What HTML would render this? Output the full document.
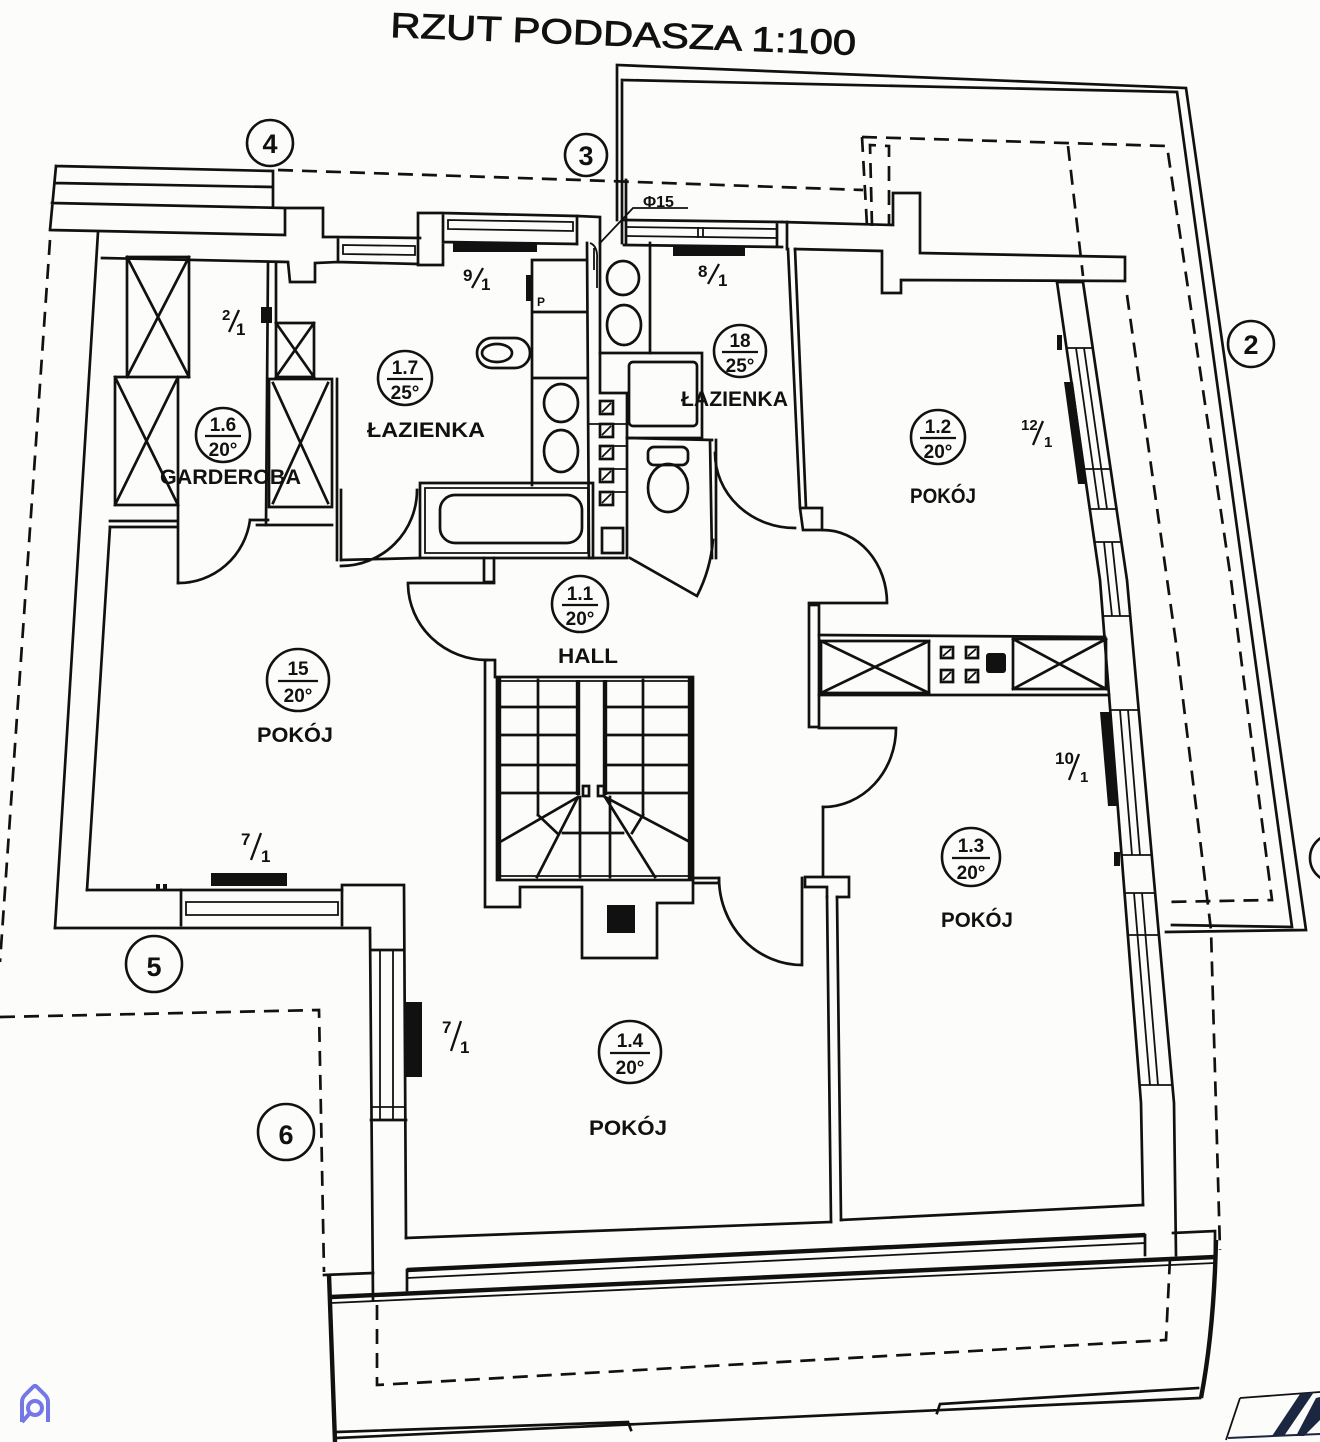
<!DOCTYPE html>
<html><head><meta charset="utf-8">
<style>
html,body{margin:0;padding:0;background:#fcfcfb}
svg{display:block}
.w{fill:none;stroke:#111;stroke-width:2.7;stroke-linejoin:miter;stroke-linecap:square}
.t{fill:none;stroke:#111;stroke-width:1.8}
.k{fill:none;stroke:#111;stroke-width:4.4}
.d{fill:none;stroke:#111;stroke-width:2.7;stroke-dasharray:15 9}
.b{fill:#111;stroke:none}
text{font-family:"Liberation Sans",sans-serif;fill:#111}
.lbl circle{fill:none;stroke:#111;stroke-width:2.6}
.lbl line{stroke:#111;stroke-width:2.2}
.lbl text{font-size:19px;text-anchor:middle;font-weight:bold}
.g circle{fill:none;stroke:#111;stroke-width:2.6}
.g text{font-size:27px;text-anchor:middle;font-weight:bold}
.fr text{font-size:17px;font-weight:bold}
.fr line{stroke:#111;stroke-width:2.3}
.nm{font-size:21px;font-weight:bold}
</style></head>
<body>
<svg width="1320" height="1442" viewBox="0 0 1320 1442" xmlns="http://www.w3.org/2000/svg">
<rect width="1320" height="1442" fill="#fcfcfb"/>

<!-- title -->
<text x="390" y="37" font-size="35" textLength="466" lengthAdjust="spacingAndGlyphs" transform="rotate(2.2 390 37)" stroke="#111" stroke-width="0.8">RZUT PODDASZA 1:100</text>

<!-- grid circles -->
<g class="g"><circle cx="270" cy="143" r="23"/><text x="270" y="153">4</text></g>
<g class="g"><circle cx="586" cy="155" r="21"/><text x="586" y="165">3</text></g>
<g class="g"><circle cx="1251" cy="344" r="23"/><text x="1251" y="354">2</text></g>
<g class="g"><circle cx="154" cy="964" r="28"/><text x="154" y="976" font-size="32">5</text></g>
<g class="g"><circle cx="286" cy="1132" r="28"/><text x="286" y="1144" font-size="32">6</text></g>
<g class="g"><circle cx="1334" cy="858" r="24"/></g>

<!-- dashed lines -->
<path class="d" d="M278,170 L580,180 L863,190"/>
<path class="d" d="M862,137 L1167,146 L1231,580 L1272,900 L1164,902"/>
<path class="d" d="M862,137 L867,226 M872,226 L870,145 L889,146 L889,226"/>
<path class="d" d="M1068,146 L1083,276 M1127,295 L1177,650 L1211,930 L1220,1250"/>
<path class="d" d="M50,240 L0,962"/>
<path class="d" d="M0,1017 L319,1010 L324,1272"/>
<path class="d" d="M377,1305 L377,1385 L1166,1340 L1170,1258"/>

<!-- top-right frame -->
<path class="w" d="M617,65 L1186,88 L1306,930 L1166,932 M622,80 L1177,92 L1292,927 L1172,925 M617,65 L617,220 M622,80 L622,243 M626,180 L626,243"/>

<!-- eave block top-left -->
<path class="w" d="M56,166 L273,171 M55,183 L273,187 M52,203 L285,208 M56,166 L50,230 M273,171 L273,207
M50,230 L285,235 L285,208 L323,208 L323,237 L338,237
M338,237 L420,238 M338,262 L418,264 M338,237 L338,262
M102,258 L288,262 L290,282 L315,282 L315,263 L338,262"/>
<path class="t" d="M343,245 L415,246 L415,255 L343,254 Z"/>

<!-- pier + 9/1 window -->
<path class="w" d="M418,213 L443,213 L443,265 L418,265 Z M443,213 L577,216 M443,242 L577,244"/>
<path class="t" d="M448,220 L573,222 L573,231 L448,229 Z"/>
<rect class="b" x="453" y="243" width="84" height="9"/>
<path class="w" d="M577,216 L600,217 L600,243 M577,244 L577,216"/>
<path class="t" d="M600,243 L633,208 L688,208"/>
<text x="643" y="207" font-size="16" font-weight="bold">Φ15</text>
<path class="t" d="M590,243 Q598,246 597,260 L597,288 M594,248 L594,270"/>

<!-- 8/1 window and wall to right -->
<path class="w" d="M624,220 L782,222 M624,245 L782,247 M777,222 L777,247 M787,222 L787,249"/>
<path class="t" d="M627,227 L777,229 M627,236 L777,238 M698,227 L698,238 M703,227 L703,238"/>
<rect class="b" x="673" y="247" width="72" height="9"/>
<path class="w" d="M782,222 L893,225 L893,193 L920,193 L920,253 L1125,257 L1125,281 L901,280 L901,293 L882,293 L882,251 L795,249"/>

<!-- wall bath18 / 1.2 -->
<path class="w" d="M788,249 L800,508 M795,249 L806,508 M800,508 L822,508 L822,530 L803,530 Z"/>

<!-- east wall -->
<path class="w" d="M1057,282 L1100,580 L1141,1103 L1143,1205 M1083,282 L1127,580 L1174,1103 L1176,1255 M1057,282 L1083,282"/>
<path class="t" d="M1066,348 L1093,348 M1090,509 L1117,509 M1084,469 L1111,469 M1076,348 L1099,509 M1084,348 L1107,509
M1094,542 L1121,542 M1103,616 L1130,616 M1104,542 L1112,616 M1112,542 L1120,616
M1110,710 L1139,710 M1122,855 L1152,855 M1120,710 L1132,855 M1128,710 L1140,855
M1124,893 L1155,893 M1140,1085 L1172,1085 M1128,935 L1159,935 M1134,893 L1150,1085 M1142,893 L1158,1085"/>
<polygon class="b" points="1064,382 1073,382 1087,484 1078,484"/>
<rect class="b" x="1057" y="335" width="5" height="15"/>
<polygon class="b" points="1100,712 1110,712 1118,806 1108,806"/>
<rect class="b" x="1114" y="852" width="6" height="14"/>

<!-- garderoba -->
<path class="w" d="M98,232 L55,928 M110,527 L87,890"/>
<path class="w" d="M127,257 L189,257 L189,377 L127,377 Z M127,257 L189,377 M189,257 L127,377
M115,377 L178,377 L178,505 L115,505 Z M115,377 L178,505 M178,377 L115,505"/>
<path class="w" d="M268,262 L266,525 M276,262 L276,323"/>
<rect class="b" x="261" y="307" width="11" height="16"/>
<path class="w" d="M276,323 L314,323 L314,377 L276,377 Z M276,323 L314,377 M314,323 L276,377"/>
<path class="w" d="M269,379 L332,379 L332,507 L269,507 Z M273,383 L328,503 M328,383 L273,503"/>
<path class="w" d="M337,379 L337,560 M341,490 L341,560"/>
<path class="w" d="M110,521 L178,521 M110,527 L178,527 M178,505 L178,583 M250,520 L268,520 M257,525 L332,525"/>
<path class="w" d="M178,583 A72,73 0 0 0 250,520"/>

<!-- bath 1.7 -->
<path class="w" d="M341,560 L420,558 M417,490 A76,76 0 0 1 341,566"/>
<path class="w" d="M420,483 L593,483 L593,558 L420,558 Z"/>
<path class="t" d="M425,488 L588,488 L588,553 L425,553 Z"/>
<rect x="440" y="495" width="142" height="48" rx="15" class="w"/>
<path class="w" d="M484,558 L484,582 L494,582 L494,558"/>
<path class="w" d="M532,260 L587,260 M532,260 L532,485 M532,312 L587,312 M532,378 L587,378"/>
<rect class="b" x="526" y="275" width="5" height="26"/>
<text x="537" y="306" font-size="12" font-weight="bold">P</text>
<ellipse class="w" cx="561" cy="403" rx="17" ry="19"/>
<ellipse class="w" cx="561" cy="451" rx="17" ry="21"/>
<rect class="w" x="477" y="338" width="53" height="30" rx="15"/>
<ellipse class="w" cx="497" cy="353" rx="15" ry="9"/>

<!-- shaft & bath 18 -->
<path class="w" d="M587,243 L589,558 L627,558 M600,243 L600,393 L627,393 L627,558 M650,243 L650,353"/>
<g class="w">
<rect x="600" y="401" width="13" height="13"/><rect x="600" y="424" width="13" height="13"/>
<rect x="600" y="446" width="13" height="13"/><rect x="600" y="469" width="13" height="13"/>
<rect x="600" y="492" width="13" height="13"/><rect x="602" y="528" width="21" height="25"/>
</g>
<path class="t" d="M602,412 L611,403 M602,435 L611,426 M602,457 L611,448 M602,480 L611,471 M602,503 L611,494 M589,424 L600,424 M613,424 L627,424 M613,446 L627,446 M613,469 L627,469 M613,492 L627,492"/>
<ellipse class="w" cx="623" cy="278" rx="16" ry="17"/>
<ellipse class="w" cx="624" cy="325" rx="17" ry="20"/>
<path class="w" d="M600,353 L702,353 L702,438 L627,438"/>
<rect class="w" x="629" y="362" width="68" height="64" rx="4"/>
<path class="w" d="M627,438 L712,440 M710,440 L712,558 M716,440 L716,558"/>
<rect class="w" x="648" y="447" width="40" height="18" rx="6"/>
<ellipse class="w" cx="668" cy="488" rx="20" ry="24"/>
<path class="w" d="M630,558 L697,596 A150,150 0 0 0 713,540"/>
<path class="w" d="M715,453 A80,75 0 0 0 795,528"/>

<!-- hall left door -->
<path class="w" d="M408,583 L494,583 M408,585 A79,77 0 0 0 487,660"/>

<!-- stairs -->
<path class="w" d="M485,660 L485,907 L520,907 L520,887 L582,887 L582,958 L657,958 L657,903 L693,903 L693,880 M485,660 L495,660 L495,677 M693,878 L719,878 L719,883 L693,883"/>
<rect class="w" x="497" y="677" width="196" height="203"/>
<path class="k" d="M499,677 L499,880 M690,677 L690,880 M578,680 L578,795 M605,680 L605,795"/>
<path class="t" d="M499,681 L690,681 M499,876 L690,876"/>
<path class="w" d="M499,707 L577,707 M499,735 L577,735 M499,765 L577,765 M499,793 L577,793
M606,707 L690,707 M606,735 L690,735 M606,765 L690,765 M606,793 L690,793
M538,680 L538,815 M643,680 L643,815
M578,797 L500,842 M578,797 L537,877 M538,815 L557,833
M605,797 L690,842 M605,797 L655,877 M643,815 L632,833
M580,797 L580,877 M610,797 L610,877 M563,833 L623,833"/>
<rect class="w" x="583" y="786" width="6" height="10"/><rect class="w" x="598" y="786" width="6" height="10"/>
<rect class="b" x="607" y="905" width="28" height="28"/>

<!-- right side doors / kitchen -->
<path class="w" d="M809,603 L887,603 M823,530 A64,73 0 0 1 887,603"/>
<rect class="w" x="809" y="605" width="10" height="122"/>
<path class="w" d="M819,635 L1105,637 M819,695 L1109,695"/>
<path class="w" d="M821,641 L929,641 L929,693 L821,693 Z M821,641 L929,693 M929,641 L821,693"/>
<path class="w" d="M1013,639 L1106,639 L1106,689 L1013,689 Z M1013,639 L1106,689 M1106,639 L1013,689"/>
<g class="w"><rect x="941" y="647" width="12" height="11"/><rect x="966" y="647" width="12" height="11"/><rect x="941" y="670" width="12" height="12"/><rect x="966" y="670" width="12" height="12"/></g>
<path class="t" d="M943,656 L951,649 M968,656 L976,649 M943,680 L951,672 M968,680 L976,672"/>
<rect class="b" x="986" y="653" width="20" height="20" rx="3"/>
<path class="w" d="M819,728 L896,728 M896,728 A73,79 0 0 1 823,807"/>
<path class="w" d="M823,807 L823,877 L849,877 L849,897 L837,897 M805,877 L823,877 M805,877 L805,887 L827,887 L827,897"/>
<path class="w" d="M827,897 L831,1222 M837,897 L841,1220"/>
<path class="w" d="M802,878 L802,965 M719,878 A83,87 0 0 0 802,965"/>
<path class="w" d="M841,1220 L1143,1205 M406,1238 L831,1222"/>

<!-- room 15 / 1.4 west -->
<path class="w" d="M87,890 L342,890 L342,885 L404,885 L406,1238 M55,928 L370,928 L373,1300"/>
<path class="w" d="M181,890 L181,925 M342,890 L342,925"/>
<path class="t" d="M186,902 L338,902 L338,915 L186,915 Z"/>
<rect class="b" x="211" y="873" width="76" height="13"/>
<rect class="b" x="156" y="884" width="4" height="6"/><rect class="b" x="163" y="884" width="4" height="6"/>
<path class="w" d="M371,950 L404,950 M371,1120 L406,1120"/>
<path class="t" d="M380,950 L380,1120 M393,950 L393,1120 M371,1107 L406,1107"/>
<rect class="b" x="406" y="1002" width="16" height="75"/>

<!-- balcony -->
<path class="k" d="M407,1270 L1145,1235"/>
<path class="w" d="M407,1270 L407,1290 M1145,1235 L1145,1255 M324,1275 L373,1273 M1173,1233 L1215,1231 L1215,1257"/>
<path class="k" d="M331,1297 L1215,1257"/>
<path class="t" d="M331,1303 L1215,1263 M407,1278 L1145,1243"/>
<path class="k" d="M329,1275 L335,1442 M1216,1240 Q1214,1330 1201,1398"/>
<path class="w" d="M337,1438 L1200,1398 M337,1432 L628,1422 L631,1430 M937,1413 L940,1404 L1198,1388"/>

<!-- room labels -->
<g class="lbl" transform="translate(223,435)"><circle r="27"/><line x1="-18" y1="1" x2="18" y2="1"/><text y="-4">1.6</text><text y="21">20°</text></g>
<g class="lbl" transform="translate(405,378)"><circle r="27"/><line x1="-18" y1="1" x2="18" y2="1"/><text y="-4">1.7</text><text y="21">25°</text></g>
<g class="lbl" transform="translate(740,351)"><circle r="26"/><line x1="-18" y1="1" x2="18" y2="1"/><text y="-4">18</text><text y="21">25°</text></g>
<g class="lbl" transform="translate(938,437)"><circle r="27"/><line x1="-18" y1="1" x2="18" y2="1"/><text y="-4">1.2</text><text y="21">20°</text></g>
<g class="lbl" transform="translate(580,604)"><circle r="28"/><line x1="-18" y1="1" x2="18" y2="1"/><text y="-4">1.1</text><text y="21">20°</text></g>
<g class="lbl" transform="translate(298,680)"><circle r="31"/><line x1="-20" y1="1" x2="20" y2="1"/><text y="-5">15</text><text y="22">20°</text></g>
<g class="lbl" transform="translate(971,857)"><circle r="29"/><line x1="-19" y1="1" x2="19" y2="1"/><text y="-5">1.3</text><text y="22">20°</text></g>
<g class="lbl" transform="translate(630,1052)"><circle r="31"/><line x1="-20" y1="1" x2="20" y2="1"/><text y="-5">1.4</text><text y="22">20°</text></g>

<text class="nm" x="367" y="437" textLength="118" lengthAdjust="spacingAndGlyphs">ŁAZIENKA</text>
<text class="nm" x="681" y="406" textLength="107" lengthAdjust="spacingAndGlyphs">ŁAZIENKA</text>
<text class="nm" x="160" y="484" textLength="141" lengthAdjust="spacingAndGlyphs">GARDEROBA</text>
<text class="nm" x="910" y="503" textLength="66" lengthAdjust="spacingAndGlyphs">POKÓJ</text>
<text class="nm" x="558" y="663" textLength="60" lengthAdjust="spacingAndGlyphs">HALL</text>
<text class="nm" x="257" y="742" textLength="76" lengthAdjust="spacingAndGlyphs">POKÓJ</text>
<text class="nm" x="941" y="927" textLength="72" lengthAdjust="spacingAndGlyphs">POKÓJ</text>
<text class="nm" x="589" y="1135" textLength="78" lengthAdjust="spacingAndGlyphs">POKÓJ</text>

<!-- radiator fraction labels -->
<g class="fr" transform="translate(463,266)"><text x="0" y="15">9</text><line x1="9" y1="22" x2="20" y2="2"/><text x="18" y="24">1</text></g>
<g class="fr" transform="translate(698,262)"><text x="0" y="15">8</text><line x1="10" y1="22" x2="21" y2="2"/><text x="20" y="24">1</text></g>
<g class="fr" transform="translate(222,306)"><text x="0" y="14" style="font-size:15px">2</text><line x1="7" y1="26" x2="17" y2="4"/><text x="14" y="29">1</text></g>
<g class="fr" transform="translate(1021,415)"><text x="0" y="15" style="font-size:15px">12</text><line x1="12" y1="30" x2="22" y2="6"/><text x="23" y="32" style="font-size:15px">1</text></g>
<g class="fr" transform="translate(1055,748)"><text x="0" y="16">10</text><line x1="14" y1="32" x2="24" y2="6"/><text x="25" y="34" style="font-size:15px">1</text></g>
<g class="fr" transform="translate(241,830)"><text x="0" y="15">7</text><line x1="10" y1="30" x2="20" y2="3"/><text x="20" y="32">1</text></g>
<g class="fr" transform="translate(442,1018)"><text x="0" y="15">7</text><line x1="9" y1="33" x2="19" y2="3"/><text x="18" y="35">1</text></g>

<!-- logo bottom-left -->
<path d="M22,1422 L22,1402 Q22,1398 25,1395 L33,1387 Q35,1385 37,1387 L45,1395 Q48,1398 48,1402 L48,1422" fill="none" stroke="#7378e6" stroke-width="4" stroke-linejoin="round"/>
<circle cx="35" cy="1408" r="7" fill="none" stroke="#7378e6" stroke-width="4"/>
<path d="M30,1413 L22,1422" stroke="#7378e6" stroke-width="4" fill="none"/>

<!-- logo bottom-right partial -->
<path class="t" d="M1240,1398 L1226,1440 M1240,1398 L1320,1392"/>
<polygon points="1300,1394 1314,1392 1284,1436 1272,1436" fill="#1b2740"/>
<polygon points="1316,1398 1320,1397 1320,1420 1304,1436 1296,1436" fill="#1b2740"/>
<path d="M1228,1438 L1320,1434" stroke="#1b2740" stroke-width="2" fill="none"/>
</svg>
</body></html>
